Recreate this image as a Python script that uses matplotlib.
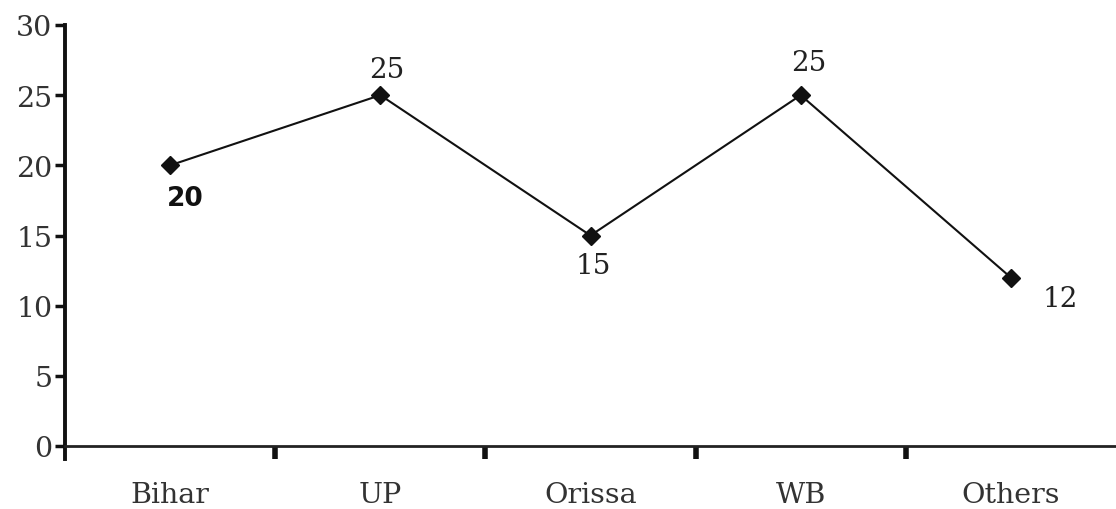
import matplotlib
matplotlib.use("Agg")
import matplotlib.pyplot as plt

# data
states = ["Bihar", "UP", "Orissa", "WB", "Others"]
values = [20, 25, 15, 25, 12]
y_ticks = [0, 5, 10, 15, 20, 25, 30]

# label placement per point: (dx pts, dy pts, ha, va, bold)
label_pos = [(11, -14, "center", "top", True),
             (5, 9, "center", "bottom", False),
             (2, -12, "center", "top", False),
             (6, 14, "center", "bottom", False),
             (23, -5, "left", "top", False)]

fig = plt.figure(figsize=(11.16, 5.10), dpi=100)
ax = fig.add_axes([65 / 1116, 63 / 510, 1 - 65 / 1116, 421 / 510])

x = list(range(len(states)))
ax.plot(x, values, color="#111111", lw=1.5, marker="D", ms=9.5,
        markerfacecolor="#111111", markeredgecolor="#111111")

for xi, v, (dx, dy, ha, va, bold) in zip(x, values, label_pos):
    if bold:
        ax.annotate(str(v), (xi, v), xytext=(dx, dy), textcoords="offset points",
                    ha=ha, va=va, fontsize=19, fontweight="bold",
                    family="DejaVu Sans", color="#111111")
    else:
        ax.annotate(str(v), (xi, v), xytext=(dx, dy), textcoords="offset points",
                    ha=ha, va=va, fontsize=20, family="DejaVu Serif",
                    color="#222222")

ax.set_xlim(-0.5, len(states) - 0.5)
ax.set_ylim(0, 30)
ax.set_yticks(y_ticks)
ax.set_yticklabels([str(t) for t in y_ticks], family="DejaVu Serif",
                   fontsize=20.5, color="#333333")

# category labels between boundary ticks
ax.set_xticks([i + 0.5 for i in range(len(states) - 1)])
ax.set_xticklabels([])
ax.set_xticks(x, minor=True)
ax.set_xticklabels(states, minor=True, family="DejaVu Serif", fontsize=20.5,
                   color="#333333")
ax.tick_params(axis="x", which="major", direction="out", length=9, width=4,
               color="#111111")
ax.tick_params(axis="x", which="minor", length=0, pad=25)
ax.tick_params(axis="y", direction="out", length=7, width=2.5,
               color="#111111", pad=2)

for s in ["top", "right"]:
    ax.spines[s].set_visible(False)
ax.spines["left"].set_linewidth(2.8)
ax.spines["left"].set_color("#111111")
ax.spines["left"].set_bounds(-0.9, 30)
ax.spines["bottom"].set_linewidth(2)
ax.spines["bottom"].set_color("#222222")

fig.savefig("out.png", dpi=100)
